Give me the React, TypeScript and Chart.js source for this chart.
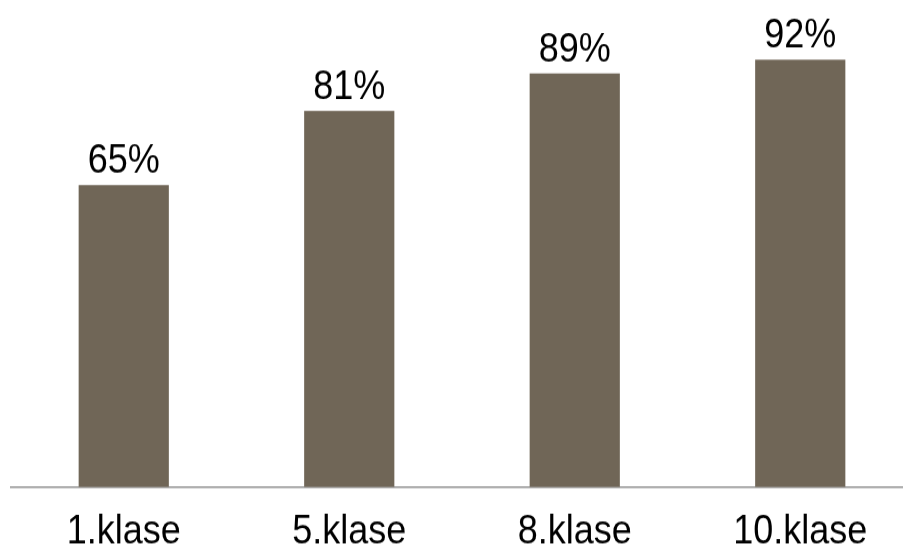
import React, { useEffect, useRef } from "react";
import { Chart, registerables } from "chart.js";

Chart.register(...registerables);

const categories = ["1.klase", "5.klase", "8.klase", "10.klase"];
const values = [65, 81, 89, 92];
const valueLabels = ["65%", "81%", "89%", "92%"];

const FONT = "'Liberation Sans', Arial, sans-serif";
const W = 925;
const H_INT = 530;
const STRETCH = 1.1;

const labelPlugin = {
  id: "valueLabels",
  afterDatasetsDraw(chart: any) {
    const ctx = chart.ctx;
    const meta = chart.getDatasetMeta(0);
    ctx.save();
    ctx.font = `36px ${FONT}`;
    ctx.fillStyle = "#000000";
    ctx.textAlign = "center";
    ctx.textBaseline = "alphabetic";
    meta.data.forEach((bar: any, i: number) => {
      ctx.fillText(valueLabels[i], bar.x, bar.y - 11);
    });
    ctx.restore();
  },
};

export default function App() {
  const ref = useRef<HTMLCanvasElement>(null);
  useEffect(() => {
    if (!ref.current) return;
    const chart = new Chart(ref.current, {
      type: "bar",
      data: {
        labels: categories,
        datasets: [
          {
            data: values,
            backgroundColor: "#706657",
            borderWidth: 0,
            barPercentage: 0.4,
            categoryPercentage: 1,
          },
        ],
      },
      options: {
        animation: false,
        responsive: false,
        maintainAspectRatio: false,
        devicePixelRatio: 1,
        layout: { padding: { left: 11, right: 12, top: 20.4, bottom: 4.1 } },
        plugins: { legend: { display: false }, tooltip: { enabled: false } },
        scales: {
          x: {
            grid: { display: false, drawTicks: false },
            border: { display: true, color: "#a0a0a0", width: 1.8 },
            ticks: {
              color: "#000000",
              font: { family: FONT, size: 36 },
              padding: 20,
              maxRotation: 0,
              autoSkip: false,
            },
          },
          y: {
            display: false,
            min: 0,
            max: 100,
          },
        },
      },
      plugins: [labelPlugin],
    });
    return () => chart.destroy();
  }, []);
  return (
    <div
      style={{
        position: "fixed",
        left: 0,
        top: 0,
        width: W,
        height: Math.round(H_INT * STRETCH),
        background: "#fff",
        overflow: "hidden",
      }}
    >
      <canvas
        ref={ref}
        width={W}
        height={H_INT}
        style={{ display: "block", width: W, height: Math.round(H_INT * STRETCH) }}
      />
    </div>
  );
}
